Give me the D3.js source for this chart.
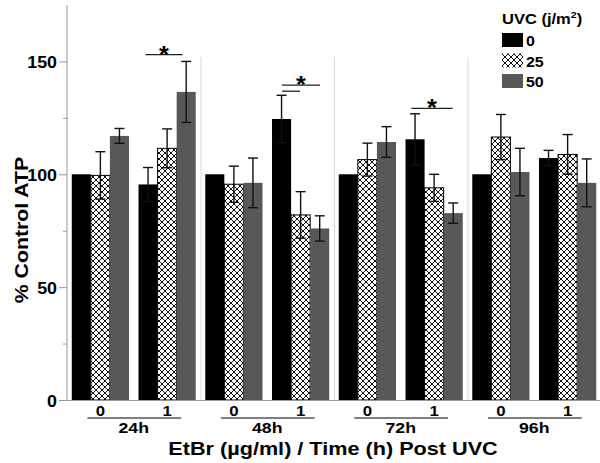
<!DOCTYPE html>
<html><head><meta charset="utf-8">
<script src="https://cdn.jsdelivr.net/npm/d3@7"></script>
<style>body{margin:0;background:#fff}svg{display:block;font-family:"Liberation Sans",Arial,sans-serif;font-weight:bold}</style>
</head><body><svg id="c" width="600" height="463"></svg>
<script>
const times = ["24h","48h","72h","96h"];
const doses = ["0","1"];
const uvc = ["0","25","50"];
// values per time, per EtBr dose, per UVC level
const means = [
  [[100, 99.5, 117], [95.5, 111.5, 136.5]],
  [[100, 95.6, 96.2], [124.5, 82, 76]],
  [[100, 106.5, 114.3], [115.5, 94, 82.8]],
  [[100, 116.5, 101], [107.2, 108.8, 96.2]]
];
const errs = [
  [[0, 10.5, 3.3], [7.5, 8.6, 13.5]],
  [[0, 8, 11], [10.5, 10.3, 5.6]],
  [[0, 7.3, 6.8], [11.3, 6, 4.5]],
  [[0, 10, 10.5], [3.4, 8.8, 10.6]]
];
const yTicks = [0, 25, 50, 75, 100, 125, 150];
// significance: [timeIndex, doseIndex]
const sig = [[0, 1], [1, 1], [2, 1]];

const svg = d3.select("#c");
const defs = svg.append("defs");
const pat = defs.append("pattern").attr("id","hatch").attr("patternUnits","userSpaceOnUse")
  .attr("width",6).attr("height",6);
pat.append("rect").attr("width",6).attr("height",6).attr("fill","#fff");
pat.append("path").attr("d","M0,0L6,6M6,0L0,6M-3,3L3,9M3,-3L9,3M3,9L9,3M-3,3L3,-3")
  .attr("stroke","#111").attr("stroke-width",1.0);

// text helper: horizontally stretched bold text
function txt(g, x, yy, s, size, sx, anchor){
  return g.append("text").attr("transform",`translate(${x},${yy}) scale(${sx},1)`)
    .attr("text-anchor", anchor||"middle").style("font-size", size+"px").text(s);
}

const x0 = 67, x1 = 601, yTop = 5, yBot = 400;
const y = d3.scaleLinear().domain([0,175]).range([yBot, yTop]);
const xt = d3.scaleBand().domain(times).range([x0, x1]);
const xd = d3.scaleBand().domain(doses).range([0, xt.bandwidth()]).paddingInner(1/7).paddingOuter(1/14);
const xu = d3.scaleBand().domain(uvc).range([0, xd.bandwidth()]);
const fills = ["#000", "url(#hatch)", "#585858"];

// separators
svg.append("g").selectAll("line").data(times.slice(1)).join("line")
  .attr("x1", d=>xt(d)+0.5).attr("x2", d=>xt(d)+0.5).attr("y1", y(152)).attr("y2", yBot)
  .attr("stroke","#d8d8d8").attr("stroke-width",1);

// bars
const rows = [];
times.forEach((t,ti)=>doses.forEach((d,di)=>uvc.forEach((u,ui)=>rows.push({t,d,u,ti,di,ui,v:means[ti][di][ui],e:errs[ti][di][ui]}))));
const gx = r => xt(r.t) + xd(r.d) + xu(r.u);
svg.append("g").selectAll("rect").data(rows).join("rect")
  .attr("x", gx).attr("width", xu.bandwidth())
  .attr("y", r=>y(r.v)).attr("height", r=>y(0)-y(r.v))
  .attr("fill", r=>fills[r.ui])
  .attr("stroke", r=>r.ui===1?"#000":"none").attr("stroke-width",1);

// error bars
const eb = svg.append("g").attr("stroke","#111").attr("stroke-width",1.4);
rows.filter(r=>r.e>0).forEach(r=>{
  const cx = gx(r) + xu.bandwidth()/2;
  eb.append("line").attr("x1",cx).attr("x2",cx).attr("y1",y(r.v+r.e)).attr("y2",y(r.v-r.e));
  [r.v+r.e, r.v-r.e].forEach(v=>eb.append("line").attr("x1",cx-5).attr("x2",cx+5).attr("y1",y(v)).attr("y2",y(v)));
});

// y axis
const ya = svg.append("g").attr("transform",`translate(${x0},0)`)
  .call(d3.axisLeft(y).tickValues(yTicks).tickSize(0).tickFormat(""));
ya.select(".domain").attr("d",`M0,${yTop}V${yBot}`).attr("stroke","#999");
ya.selectAll(".tick line").attr("x2", d=>d%50===0?-8:-4).attr("stroke","#999");
ya.selectAll(".tick").filter(d=>d%50===0).each(function(d){
  txt(d3.select(this), -10, 6, d, 17, 1.05, "end").attr("fill","#000")
    .style("font-weight","bold").style("font-family","Liberation Sans, Arial, sans-serif");
});
// x axis line
svg.append("line").attr("x1",x0).attr("x2",x1).attr("y1",yBot+0.5).attr("y2",yBot+0.5).attr("stroke","#999");

// x labels
const xl = svg.append("g");
times.forEach(t=>{
  doses.forEach(d=>{
    txt(xl, xt(t)+xd(d)+xd.bandwidth()/2, 416, d, 15, 1.12);
  });
  const c0 = xt(t)+xd("0")+xd.bandwidth()/2, c1 = xt(t)+xd("1")+xd.bandwidth()/2;
  xl.append("line").attr("x1",c0-13).attr("x2",c1+14).attr("y1",418).attr("y2",418).attr("stroke","#000").attr("stroke-width",1);
  txt(xl, (c0+c1)/2, 433, t, 15, 1.18);
});
txt(svg, 333, 455, "EtBr (µg/ml) / Time (h) Post UVC", 18.5, 1.17);
svg.append("text").attr("transform","translate(28,230) rotate(-90) scale(1.12,1)").attr("text-anchor","middle").style("font-size","19px")
  .text("% Control ATP");

// significance
const sg = svg.append("g");
const sigY = [[153,null],[139.5,136.8],[129.2,null]];
sig.forEach(([ti,di],k)=>{
  const t = times[ti], d = doses[di];
  const b0 = xt(t)+xd(d);
  const ly = y(sigY[k][0]);
  let lx0, lx1;
  if (ti===0){ lx0 = b0 + 7; lx1 = b0 + 44; }
  else if (ti===1){ lx0 = b0 + 10; lx1 = b0 + 48; }
  else { lx0 = b0 + 6; lx1 = b0 + 47; }
  sg.append("line").attr("x1",lx0).attr("x2",lx1).attr("y1",ly).attr("y2",ly).attr("stroke","#222").attr("stroke-width",1.3);
  if (sigY[k][1]!==null){
    const ly2 = y(sigY[k][1]);
    sg.append("line").attr("x1",lx0).attr("x2",b0+28).attr("y1",ly2).attr("y2",ly2).attr("stroke","#222").attr("stroke-width",1.3);
  }
  txt(sg, (lx0+lx1)/2, ly+8, "*", 23, 1.1);
});

// legend
const lg = svg.append("g").attr("transform","translate(502,0)");
const lt = lg.append("text").attr("transform","translate(0,24) scale(1.18,1)").style("font-size","14px");
lt.append("tspan").text("UVC (j/m");
lt.append("tspan").attr("dy",-6).style("font-size","9px").text("2");
lt.append("tspan").attr("dy",6).text(")");
uvc.forEach((u,i)=>{
  const yy = 33 + i*20.5;
  lg.append("rect").attr("x",0).attr("y",yy).attr("width",21).attr("height",14).attr("fill",fills[i]);
  txt(lg, 24, yy+13, u, 14.5, 1.1, "start");
});
</script></body></html>
